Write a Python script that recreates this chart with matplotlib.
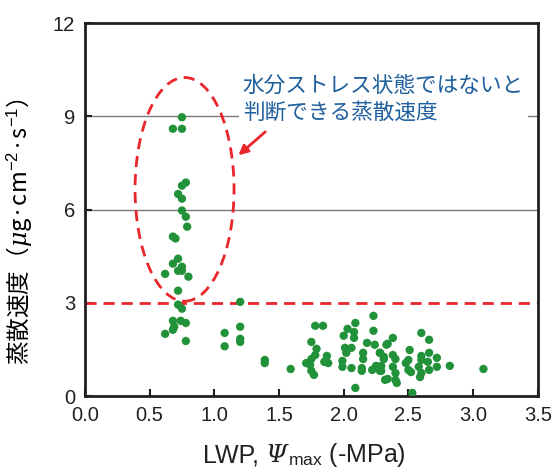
import matplotlib
matplotlib.use("Agg")
import matplotlib.pyplot as plt
from matplotlib.patches import Ellipse
from matplotlib.offsetbox import TextArea, HPacker, AnchoredOffsetbox

plt.rcParams['font.family'] = ['Liberation Sans', 'Noto Sans CJK JP', 'DejaVu Sans']
plt.rcParams['mathtext.fontset'] = 'custom'
plt.rcParams['mathtext.rm'] = 'Liberation Sans'
plt.rcParams['mathtext.it'] = 'DejaVu Serif:italic'

# LWP (-MPa) と蒸散速度 (μg・cm-2・s-1)
lwp = [
    0.75, 0.68, 0.75, 0.78, 0.75, 0.72, 0.75, 0.75, 0.78, 0.79,
    0.68, 0.70, 0.72, 0.68, 0.75, 0.72, 0.75, 0.62, 0.80, 0.72,
    0.72, 0.75, 1.20, 0.68, 0.74, 0.78, 0.69, 0.68, 0.62, 0.78,
    1.08, 1.08, 1.20, 1.20, 1.20, 1.39, 1.39,
    1.78, 1.84, 2.23, 2.09, 2.03, 2.08, 2.23, 2.00, 2.08, 1.75,
    2.18, 2.24, 2.01, 2.06, 1.79, 2.33, 2.02, 2.15, 2.28, 1.78,
    1.87, 1.75, 2.15, 2.31, 1.99, 1.85, 1.71, 1.88, 1.74, 1.99,
    2.25, 2.06, 2.14, 2.22, 2.29, 1.59, 1.75, 1.77, 2.14, 2.32, 2.09,
    2.60, 2.38, 2.66, 2.34, 2.51, 2.28, 2.38, 2.66, 2.60, 2.31,
    2.40, 2.72, 2.50, 2.60, 2.48, 2.65, 2.82, 2.72, 2.29, 2.38,
    2.58, 2.50, 2.66, 3.08, 2.52, 2.40, 2.60, 2.28, 2.59, 2.34,
    2.40, 2.41, 2.53,
]
transp = [
    8.97, 8.60, 8.60, 6.87, 6.77, 6.50, 6.35, 5.97, 5.77, 5.45,
    5.13, 5.07, 4.42, 4.26, 4.16, 4.03, 4.03, 3.93, 3.84, 3.39,
    2.94, 2.81, 3.03, 2.42, 2.42, 2.35, 2.23, 2.13, 2.00, 1.77,
    2.03, 1.60, 2.23, 1.84, 1.74, 1.16, 1.06,
    2.26, 2.26, 2.58, 2.35, 2.16, 2.06, 2.10, 1.94, 1.87, 1.74,
    1.71, 1.65, 1.55, 1.55, 1.52, 1.65, 1.39, 1.39, 1.39, 1.32,
    1.29, 1.19, 1.19, 1.19, 1.13, 1.10, 1.06, 1.06, 1.00, 0.94,
    0.97, 0.90, 0.90, 0.84, 0.81, 0.87, 0.81, 0.68, 0.81, 0.52, 0.26,
    2.03, 1.87, 1.81, 1.68, 1.48, 1.39, 1.32, 1.39, 1.29, 1.26,
    1.19, 1.23, 1.16, 1.16, 1.06, 1.10, 0.97, 0.94, 0.97, 0.94,
    0.94, 0.84, 0.84, 0.87, 0.77, 0.74, 0.74, 0.81, 0.61, 0.55,
    0.52, 0.42, 0.10,
]

x_ticks = [0.0, 0.5, 1.0, 1.5, 2.0, 2.5, 3.0, 3.5]
y_ticks = [0, 3, 6, 9, 12]
threshold = 3

fig = plt.figure(figsize=(5.55, 4.72), dpi=100)
ax = fig.add_axes([0.153, 0.161, 0.816, 0.790])

# 補助線 (6, 9)
for yv in [6, 9]:
    ax.axhline(yv, color='#7a7a7a', lw=1.0, zorder=1)
ax.axhline(threshold, color='#e8262b', lw=2.0, ls=(0, (4, 2.5)), zorder=2)

ax.scatter(lwp, transp, s=36, color='#22923a', edgecolors='none', zorder=3)

ell = Ellipse((0.77, 6.65), 0.765, 7.2, fill=False, edgecolor='#e8262b',
              lw=2.0, ls=(0, (4, 2.5)), zorder=4)
ax.add_patch(ell)

ax.annotate('', xy=(1.17, 7.69), xytext=(1.41, 8.56),
            arrowprops=dict(arrowstyle='-|>', color='#e8262b', lw=2.0,
                            mutation_scale=14), zorder=5)

ax.text(1.22, 9.55, '水分ストレス状態ではないと\n判断できる蒸散速度',
        family=['Noto Sans CJK JP'], fontsize=15.6, color='#1f5f9e',
        va='center', ha='left', linespacing=1.3,
        bbox=dict(facecolor='white', edgecolor='none', pad=3), zorder=6)

ax.set_xlim(0, 3.5)
ax.set_ylim(0, 12)
ax.set_xticks(x_ticks)
ax.set_xticklabels([f'{v:.1f}' for v in x_ticks])
ax.set_yticks(y_ticks)
ax.tick_params(direction='in', length=5, width=1.5, labelsize=14.5,
               colors='#231f20', pad=7)
for sp in ax.spines.values():
    sp.set_linewidth(2.0)
    sp.set_color('#231f20')

# x軸ラベル: Ψ だけ斜体にするため部品を並べる
lab_props = dict(fontsize=18, color='#231f20')
parts = [
    TextArea('LWP, ', textprops=lab_props),
    TextArea('Ψ', textprops=dict(lab_props, family='DejaVu Serif', style='italic')),
    TextArea(r'$_{\mathrm{max}}$ (-MPa)', textprops=lab_props),
]
xlab = HPacker(children=parts, align='baseline', pad=0, sep=0)
fig.add_artist(AnchoredOffsetbox(loc='center', child=xlab, frameon=False, pad=0,
                                 borderpad=0, bbox_to_anchor=(0.548, 0.036),
                                 bbox_transform=fig.transFigure))

ax.set_ylabel(r'蒸散速度（$\mathit{\mu}$g·cm$^{-2}$·s$^{-1}$）',
              family=['Noto Sans CJK JP', 'Liberation Sans'], fontsize=17)
ax.yaxis.set_label_coords(-0.11, 0.44)

fig.savefig('out.png', dpi=100)
